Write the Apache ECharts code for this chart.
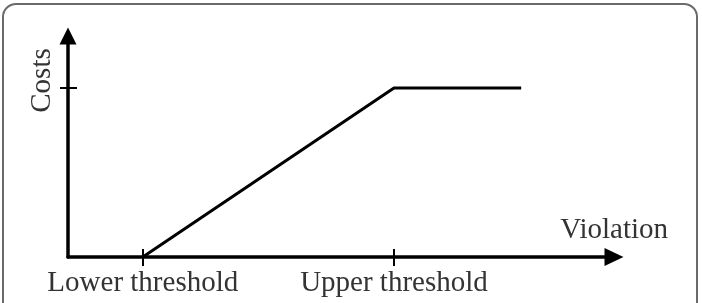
<!DOCTYPE html>
<html>
<head>
<meta charset="utf-8">
<script src="https://cdn.jsdelivr.net/npm/echarts@6/dist/echarts.min.js"></script>
<style>
html,body{margin:0;padding:0;background:#fff;}
#chart{width:702px;height:303px;}
</style>
</head>
<body>
<div id="chart"></div>
<script>
// Data (abstract units)
const xTickValues = [13.7, 59.7];
const xTickLabels = ['Lower threshold', 'Upper threshold'];
const yTickValues = [76.5];
const costX = [13.7, 59.7, 83.0];
const costY = [0, 76.5, 76.5];
const xAxisName = 'Violation';
const yAxisName = 'Costs';

const FONT = '"Liberation Serif", "Times New Roman", serif';
const TXT = '#333';
const chart = echarts.init(document.getElementById('chart'), null, {renderer: 'canvas'});

const axisLineStyle = {color: '#000', width: 3.5};
const baseX = {type: 'value', min: 0, max: 100, position: 'bottom', splitLine: {show: false}};
const baseY = {type: 'value', min: 0, max: 100, position: 'left', splitLine: {show: false}};

chart.setOption({
  animation: false,
  backgroundColor: '#fff',
  grid: {left: 68, right: 88, top: 36, bottom: 46, containLabel: false, outerBoundsMode: 'none'},
  xAxis: [
    Object.assign({}, baseX, {
      axisLine: {show: true, lineStyle: axisLineStyle, symbol: ['none', 'triangle'], symbolSize: [18, 19]},
      axisTick: {show: true, inside: false, length: 9, lineStyle: {color: '#000', width: 2}, customValues: xTickValues},
      axisLabel: {show: true, margin: 12, customValues: xTickValues,
        formatter: v => xTickLabels[xTickValues.indexOf(v)] || '',
        fontFamily: FONT, fontSize: 29, color: TXT}
    }),
    Object.assign({}, baseX, {
      axisLine: {show: false},
      axisTick: {show: true, inside: true, length: 8, lineStyle: {color: '#000', width: 2}, customValues: xTickValues},
      axisLabel: {show: false}
    })
  ],
  yAxis: [
    Object.assign({}, baseY, {
      axisLine: {show: true, lineStyle: axisLineStyle, symbol: ['none', 'triangle'], symbolSize: [17, 17]},
      axisTick: {show: true, inside: false, length: 8, lineStyle: {color: '#000', width: 2}, customValues: yTickValues},
      axisLabel: {show: false}
    }),
    Object.assign({}, baseY, {
      axisLine: {show: false},
      axisTick: {show: true, inside: true, length: 9, lineStyle: {color: '#000', width: 2}, customValues: yTickValues},
      axisLabel: {show: false}
    })
  ],
  series: [{
    type: 'line',
    data: costX.map((x, i) => [x, costY[i]]),
    showSymbol: false,
    symbol: 'none',
    lineStyle: {color: '#000', width: 3},
    silent: true
  }],
  graphic: [
    {type: 'rect', shape: {x: 3, y: 4, width: 694, height: 330, r: 13},
      style: {fill: 'none', stroke: '#6a6a6a', lineWidth: 2}, silent: true, z: -1},
    {type: 'text', x: 42, y: 80.5, rotation: Math.PI / 2,
      style: {text: yAxisName, font: '29px ' + FONT, fill: TXT, align: 'center', verticalAlign: 'middle'}},
    {type: 'text', x: 668, y: 230,
      style: {text: xAxisName, font: '29px ' + FONT, fill: TXT, align: 'right', verticalAlign: 'middle'}}
  ]
});
</script>
</body>
</html>
